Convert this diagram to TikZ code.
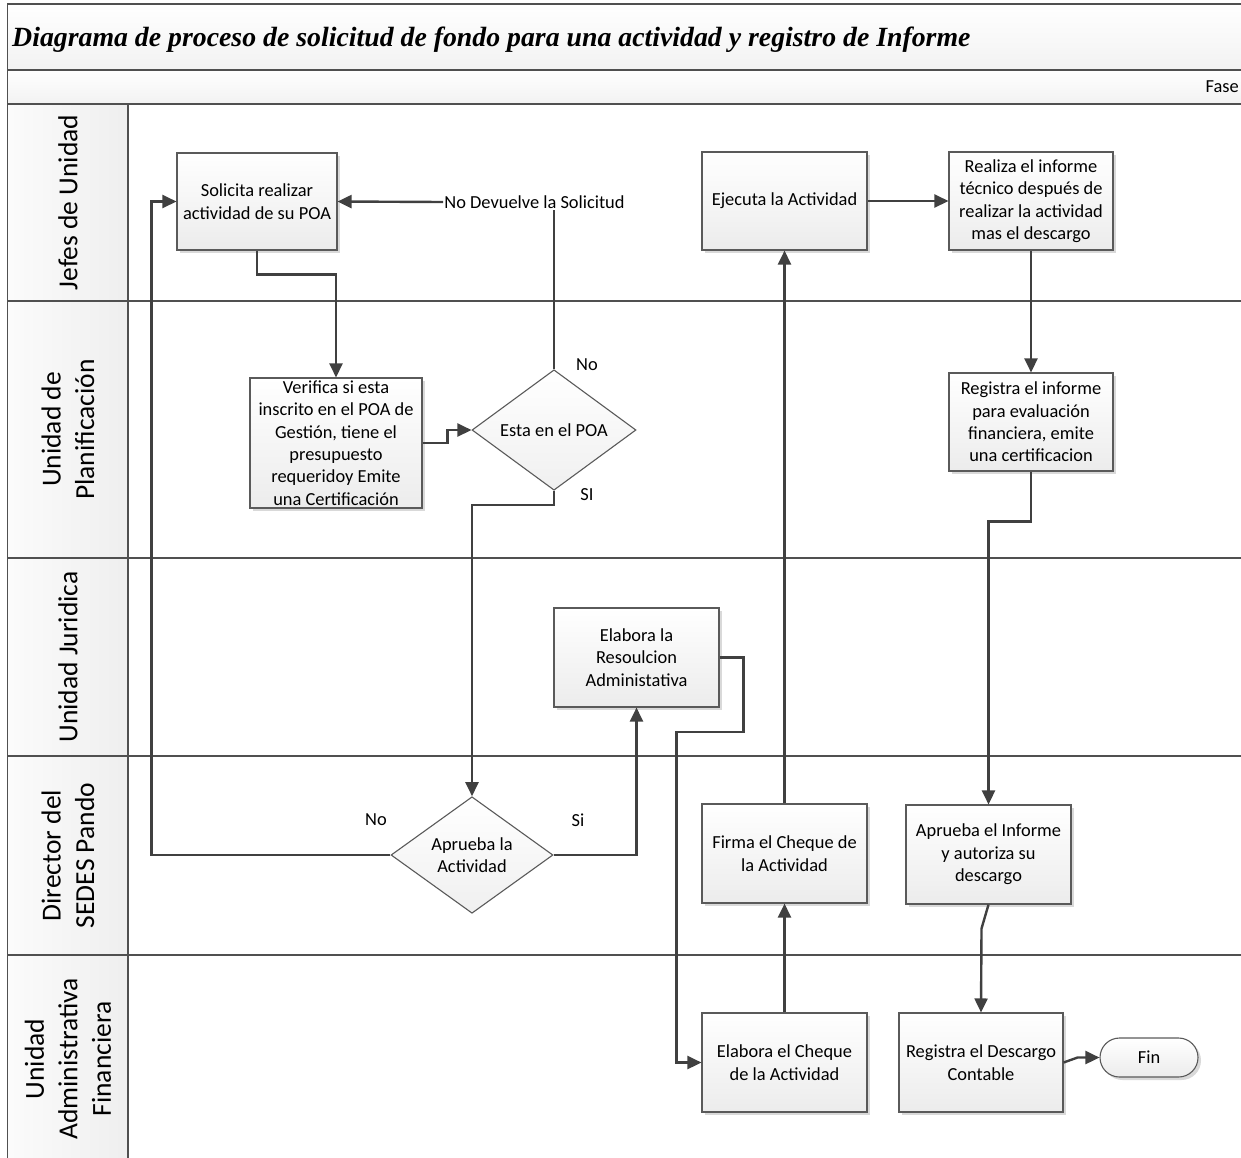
\documentclass[tikz,border=0pt]{standalone}
\usepackage{fontspec}
\setmainfont{Carlito}
\newfontfamily\titlefamily{Liberation Serif}
\usetikzlibrary{arrows.meta,shapes.geometric,shadows}

\definecolor{conn}{HTML}{404040}
\definecolor{laneline}{HTML}{505050}
\definecolor{boxline}{HTML}{5A5A5A}
\newcommand\boxfont{\fontsize{18.4}{22.4}\selectfont}
\newcommand\lanefont{\fontsize{27.5}{33.5}\selectfont}

\tikzset{
  boxshadow/.style={drop shadow={shadow xshift=3pt,shadow yshift=-3pt,fill=black!15,opacity=1}},
  procbox/.style={draw=boxline,line width=1.1pt,top color=white,bottom color=gray!15,
    boxshadow,minimum width=165pt,minimum height=99pt,inner sep=0pt,align=center,font=\boxfont},
  decision/.style={diamond,draw=boxline,line width=1.1pt,top color=white,bottom color=gray!12,
    inner sep=0pt,align=center,font=\boxfont},
  terminal/.style={draw=boxline,line width=1.1pt,top color=white,bottom color=gray!15,
    boxshadow,rounded corners=19.5pt,minimum width=98pt,minimum height=39pt,inner sep=0pt,font=\boxfont},
  flow/.style={draw=conn,line width=2.4pt,-{Triangle[length=14pt,width=13pt]}},
  plainflow/.style={draw=conn,line width=2.4pt},
  tag/.style={font=\boxfont,inner sep=1pt},
  lanelabel/.style={rotate=90,align=center,font=\lanefont},
  lane/.style={draw=laneline,line width=1.8pt}
}

\begin{document}
\begin{tikzpicture}[x=1pt,y=-1pt]
\useasboundingbox (0,0) rectangle (1241,1157);

% title band, phase band and the column of lane names
\shade[top color=white,bottom color=gray!10] (7.5,4) rectangle (1250,70);
\shade[top color=white,bottom color=gray!10] (7.5,70) rectangle (1250,104);
\shade[left color=gray!3,right color=gray!13] (7.5,104) rectangle (128,1170);
\draw[lane] (7.5,1170) -- (7.5,4) -- (1250,4);
\foreach \yy in {70,104,301,558,756,955} \draw[lane] (7.5,\yy) -- (1250,\yy);
\draw[lane] (128,104) -- (128,1170);

\node[anchor=west,inner sep=0pt,font=\titlefamily\bfseries\itshape\fontsize{27.8}{32}\selectfont] (title) at (12,40)
  {Diagrama de proceso de solicitud de fondo para una actividad y registro de Informe};
\node[anchor=east,inner sep=0pt,font=\boxfont] (fase) at (1239,87) {Fase};

% lane names
\node[lanelabel] (lane1) at (68,202.5) {Jefes de Unidad};
\node[lanelabel] (lane2) at (68,429.5) {Unidad de\\Planificación};
\node[lanelabel] (lane3) at (68,657) {Unidad Juridica};
\node[lanelabel] (lane4) at (68,855.5) {Director del\\SEDES Pando};
\node[lanelabel] (lane5) at (68,1059) {Unidad\\Administrativa\\Financiera};

% process steps
\node[procbox,minimum width=160pt,minimum height=97pt] (s1) at (257,201.5) {Solicita realizar\\actividad de su POA};
\node[procbox,minimum width=172pt,minimum height=130pt] (v1) at (336,443)
  {Verifica si esta\\inscrito en el POA de\\Gestión, tiene el\\presupuesto\\requeridoy Emite\\una Certificación};
\node[decision,minimum width=164pt,minimum height=96pt] (d1) at (554,430) {Esta en el POA};
\node[procbox,minimum height=98pt] (e1) at (784.5,201) {Ejecuta la Actividad};
\node[procbox,minimum width=164pt,minimum height=98pt] (r1) at (1031,201)
  {Realiza el informe\\técnico después de\\realizar la actividad\\mas el descargo};
\node[procbox,minimum width=164pt,minimum height=98pt] (r2) at (1031,422)
  {Registra el informe\\para evaluación\\financiera, emite\\una certificacion};
\node[procbox] (j1) at (636.5,657.5) {Elabora la\\Resoulcion\\Administativa};
\node[decision,minimum width=162pt,minimum height=100pt] (d2) at (472,855) {Aprueba la\\Actividad};
\node[procbox] (f1) at (784.5,853.5) {Firma el Cheque de\\la Actividad};
\node[procbox] (a1) at (988.5,854.5) {Aprueba el Informe\\y autoriza su\\descargo};
\node[procbox] (c1) at (784.5,1062.5) {Elabora el Cheque\\de la Actividad};
\node[procbox,minimum width=164pt] (c2) at (981,1062.5) {Registra el Descargo\\Contable};
\node[terminal] (fin) at (1149,1057.5) {Fin};

% connectors
\draw[flow] (s1.south) -- ++(0,24) -| (v1.north);
\draw[flow] (v1.east) -- ++(25,0) |- (d1.west);
\node[tag] (back) at (534.5,202) {No Devuelve la Solicitud};
\draw[plainflow] (d1.north) -- (d1.north |- back.south);
\draw[flow] (back.west) -- (s1.east);
\node[tag] (no1) at (587,365) {No};
\node[tag] (si1) at (587,495) {SI};
\draw[flow] (d1.south) -- ++(0,14) -| (d2.north);
\draw[flow] (d2.west) -| ([xshift=-25pt]s1.west) -- (s1.west);
\node[tag] (no2) at (376,820) {No};
\node[tag] (si2) at (578,820) {Si};
\draw[flow] (d2.east) -| (j1.south);
\draw[flow] (j1.east) -- ++(24,0) -- ++(0,74.5) -| ([xshift=-25pt]c1.west) -- (c1.west);
\draw[flow] (c1.north) -- (f1.south);
\draw[flow] (f1.north) -- (e1.south);
\draw[flow] (e1.east) -- (r1.west);
\draw[flow] (r1.south) -- (r2.north);
\draw[flow] (r2.south) -- ++(0,50) -| (a1.north);
\draw[flow] (a1.south) -- ++(-7,24) -- (c2.north);
\draw[flow] (c2.east) -- ++(14,-5) -- (fin.west);
\end{tikzpicture}
\end{document}
